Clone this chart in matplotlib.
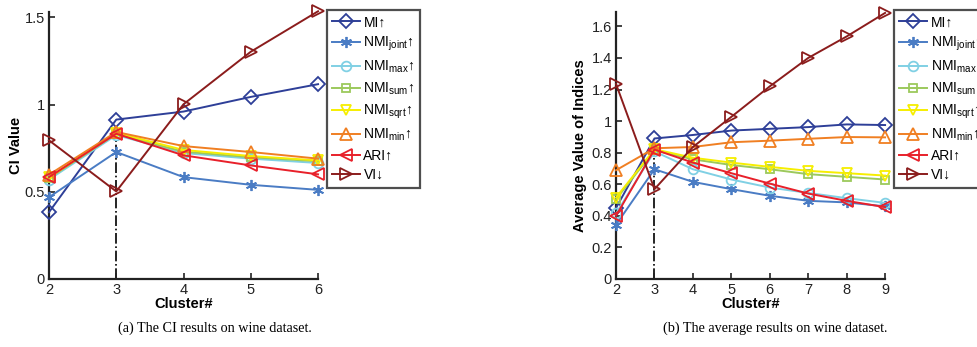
import numpy as np
import matplotlib
matplotlib.use("Agg")
import matplotlib.pyplot as plt

plt.rcParams['font.family'] = ['Liberation Sans', 'DejaVu Sans']
plt.rcParams['mathtext.fontset'] = 'custom'
plt.rcParams['mathtext.rm'] = 'Liberation Sans'
plt.rcParams['mathtext.it'] = 'Liberation Sans:italic'

# (a) CI results on wine dataset
clusters_a = [2, 3, 4, 5, 6]
mi_a = [0.383, 0.914, 0.960, 1.044, 1.117]
joint_a = [0.469, 0.728, 0.584, 0.540, 0.511]
max_a = [0.570, 0.825, 0.722, 0.690, 0.665]
sum_a = [0.578, 0.832, 0.730, 0.698, 0.675]
sqrt_a = [0.582, 0.838, 0.740, 0.705, 0.680]
min_a = [0.598, 0.843, 0.762, 0.728, 0.690]
ari_a = [0.584, 0.833, 0.709, 0.651, 0.600]
vi_a = [0.795, 0.502, 1.002, 1.303, 1.535]

# (b) average results on wine dataset
clusters_b = [2, 3, 4, 5, 6, 7, 8, 9]
mi_b = [0.450, 0.890, 0.912, 0.940, 0.951, 0.962, 0.979, 0.975]
joint_b = [0.344, 0.695, 0.615, 0.569, 0.527, 0.495, 0.485, 0.460]
max_b = [0.415, 0.808, 0.695, 0.630, 0.579, 0.545, 0.512, 0.482]
sum_b = [0.505, 0.815, 0.758, 0.722, 0.695, 0.664, 0.647, 0.630]
sqrt_b = [0.516, 0.822, 0.768, 0.737, 0.710, 0.685, 0.670, 0.655]
min_b = [0.689, 0.828, 0.836, 0.866, 0.876, 0.888, 0.899, 0.897]
ari_b = [0.400, 0.820, 0.737, 0.670, 0.604, 0.541, 0.495, 0.455]
vi_b = [1.235, 0.569, 0.836, 1.027, 1.220, 1.400, 1.536, 1.685]

labels = ['MI↑', r'NMI$_{\mathrm{joint}}$↑', r'NMI$_{\mathrm{max}}$↑',
          r'NMI$_{\mathrm{sum}}$↑', r'NMI$_{\mathrm{sqrt}}$↑',
          r'NMI$_{\mathrm{min}}$↑', 'ARI↑', 'VI↓']
colors = ['#2e3f98', '#4a7cc4', '#80d0e4', '#9cc95c', '#f6ee00',
          '#f07f22', '#e8202a', '#8b1c1c']
markers = ['D', (6, 2, 0), 'o', 's', 'v', '^', '<', '>']
msizes = [7, 8, 7, 6, 7, 8, 8, 8]

fig = plt.figure(figsize=(9.78, 3.47), dpi=100)


def draw(ax, xs, series, ymax, yticks, yticklabels, ylabel, vline_top, leg_x, lpad):
    # vertical dash-dot line at the chosen cluster number
    ax.plot([3, 3], [0, vline_top], color='black', ls='-.', lw=1.2, zorder=1)
    handles = []
    for ys, lab, c, m, ms in zip(series, labels, colors, markers, msizes):
        h, = ax.plot(xs, ys, color=c, marker=m, ms=ms, mfc='none', mec=c,
                     mew=1.3, lw=1.4, label=lab, clip_on=False, zorder=3)
        handles.append(h)
    ax.set_xlim(xs[0], xs[-1])
    ax.set_ylim(0, ymax)
    ax.set_xticks(xs)
    ax.set_yticks(yticks)
    ax.set_yticklabels(yticklabels)
    ax.spines['top'].set_visible(False)
    ax.spines['right'].set_visible(False)
    for s in ['left', 'bottom']:
        ax.spines[s].set_linewidth(1.6)
        ax.spines[s].set_color('#222222')
    ax.tick_params(direction='in', length=4, width=1.2, labelsize=10.5,
                   colors='#222222', pad=3)
    ax.set_ylabel(ylabel, fontsize=10.5, fontweight='bold', labelpad=lpad)
    ax.set_xlabel('Cluster#', fontsize=10.5, fontweight='bold', labelpad=0)
    leg = fig.legend(handles=handles, loc='upper left',
                     bbox_to_anchor=(leg_x, 0.972), fontsize=10,
                     frameon=True, fancybox=False, edgecolor='#222222',
                     handlelength=2.0, handletextpad=0.25, labelspacing=0.4,
                     borderpad=0.4, borderaxespad=0.0)
    leg.get_frame().set_linewidth(1.6)


ax1 = fig.add_axes([0.0501, 0.196, 0.2751, 0.769])
draw(ax1, clusters_a,
     [mi_a, joint_a, max_a, sum_a, sqrt_a, min_a, ari_a, vi_a],
     1.53, [0, 0.5, 1, 1.5], ['0', '0.5', '1', '1.5'], 'CI Value', 0.84,
     0.334, 1)

ax2 = fig.add_axes([0.6299, 0.196, 0.2751, 0.769])
draw(ax2, clusters_b,
     [mi_b, joint_b, max_b, sum_b, sqrt_b, min_b, ari_b, vi_b],
     1.69, [0, 0.2, 0.4, 0.6, 0.8, 1, 1.2, 1.4, 1.6],
     ['0', '0.2', '0.4', '0.6', '0.8', '1', '1.2', '1.4', '1.6'],
     'Average Value of Indices', 0.82, 0.914, 3)

fig.text(215 / 978, 1 - 328 / 347, '(a) The CI results on wine dataset.',
         family='Liberation Serif', fontsize=10.2, ha='center', va='center')
fig.text(775 / 978, 1 - 328 / 347, '(b) The average results on wine dataset.',
         family='Liberation Serif', fontsize=10.2, ha='center', va='center')

fig.savefig('out.png', dpi=100)
